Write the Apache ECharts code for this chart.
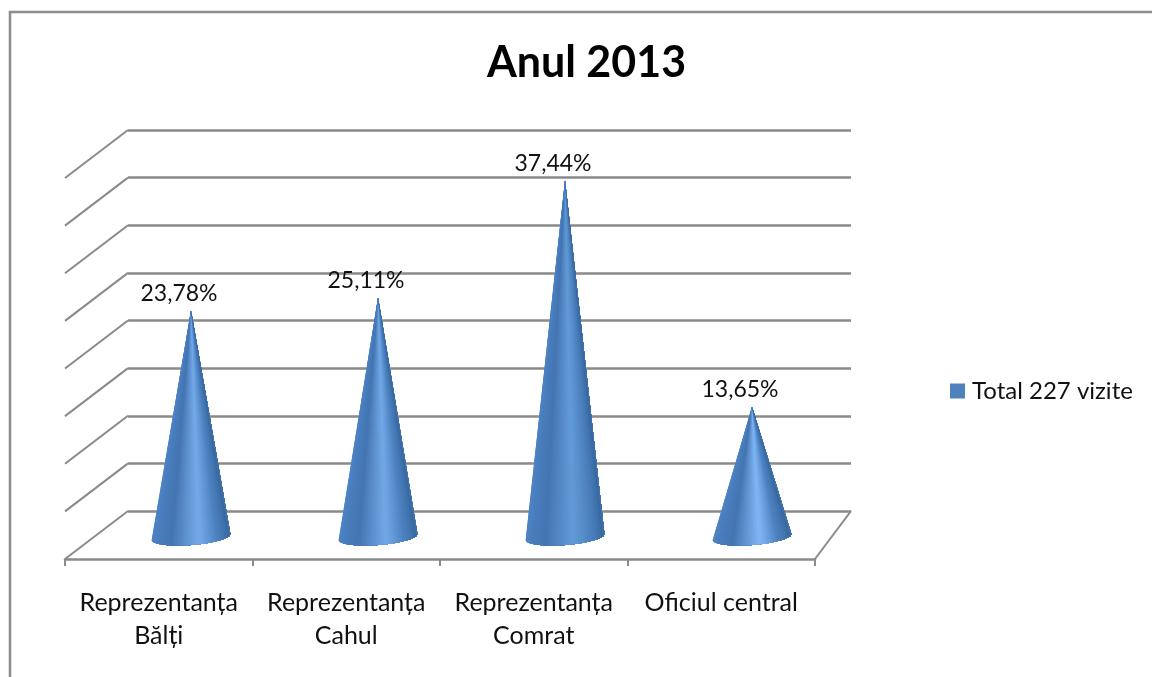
<!DOCTYPE html>
<html>
<head>
<meta charset="utf-8">
<title>Anul 2013</title>
<script src="https://cdn.jsdelivr.net/npm/echarts@6/dist/echarts.min.js"></script>
<style>
  html, body { margin: 0; padding: 0; background: #fff; }
  #chart { width: 1152px; height: 677px; }
</style>
</head>
<body>
<div id="chart"></div>
<script>
// Vizite pe reprezentanțe, anul 2013
const chartTitle = 'Anul 2013';
const seriesName = 'Total 227 vizite';
const categories = ['Reprezentanța\nBălți', 'Reprezentanța\nCahul', 'Reprezentanța\nComrat', 'Oficiul central'];
const shares = [23.78, 25.11, 37.44, 13.65];
const axisTicks = [0, 5, 10, 15, 20, 25, 30, 35, 40];

const FONT = 'Lato, "Open Sans", "Noto Sans", sans-serif';
const GRID_COLOR = '#8a8a8a';
const TEXT_COLOR = '#111';

// Oblique projection of the floor: how far the front edge sits from the back wall.
const DEPTH_LEFT = 63, DEPTH_RIGHT = 36, DEPTH_DOWN = 48;

function hexToRgb(h) {
  return [1, 3, 5].map(i => parseInt(h.substr(i, 2), 16));
}
function mix(a, b, t) {
  const ca = hexToRgb(a), cb = hexToRgb(b);
  return '#' + ca.map((c, i) => Math.round(c + (cb[i] - c) * t).toString(16).padStart(2, '0')).join('');
}
// Colour of the cone surface at position t (0 = left rim, 1 = right rim).
function coneShade(t, highlight) {
  const stops = [
    [0, '#4f86c6'], [0.15, '#4a7fbf'], [0.33, '#4375b1'],
    [0.56, highlight], [0.72, '#4d82c0'], [0.9, '#38689f'], [1, '#4a7fb8']
  ];
  for (let i = 1; i < stops.length; i++) {
    if (t <= stops[i][0]) {
      const u = (t - stops[i - 1][0]) / (stops[i][0] - stops[i - 1][0]);
      return mix(stops[i - 1][1], stops[i][1], u);
    }
  }
  return stops[stops.length - 1][1];
}

function renderCone(params, api) {
  const i = api.value(0), v = api.value(1);
  const apex = api.coord([i, v]);
  const base = api.coord([i, 0]);
  const rx = 39.5, ry = 8, tilt = -0.077;
  const cos = Math.cos(tilt), sin = Math.sin(tilt);
  const N = 48;
  const rim = [];
  for (let k = 0; k <= N; k++) {
    const th = Math.PI - (k / N) * Math.PI;
    const ex = rx * Math.cos(th), ey = ry * Math.sin(th);
    rim.push([base[0] + ex * cos - ey * sin, base[1] + ex * sin + ey * cos]);
  }
  // Shorter cones catch a brighter highlight.
  const short = Math.max(0, Math.min(1, (37.44 - v) / 24));
  const highlight = mix('#639ad8', '#80b6f6', short);
  // Each wedge covers everything to its right, so the next one paints over it without seams.
  const children = [];
  for (let k = 0; k < N; k++) {
    children.push({
      type: 'polygon',
      shape: { points: [apex].concat(rim.slice(k)) },
      style: { fill: coneShade((k + 0.5) / N, highlight) }
    });
  }
  children.push({
    type: 'text',
    style: {
      text: v.toFixed(2).replace('.', ',') + '%',
      x: apex[0] - 12,
      y: apex[1] - 17,
      align: 'center',
      verticalAlign: 'middle',
      fill: TEXT_COLOR,
      font: '23px ' + FONT
    }
  });
  return { type: 'group', children };
}

function renderWallEdge(params, api) {
  const v = api.value(0);
  const p = api.coord([0, v]);
  const x = params.coordSys.x;
  const right = params.coordSys.x + params.coordSys.width;
  const line = (x1, x2) => ({
    type: 'line',
    shape: { x1, y1: p[1], x2, y2: p[1] + DEPTH_DOWN },
    style: { stroke: GRID_COLOR, lineWidth: 2 }
  });
  const children = [line(x, x - DEPTH_LEFT)];
  if (v === 0) children.push(line(right, right - DEPTH_RIGHT));
  return { type: 'group', children };
}

const chart = echarts.init(document.getElementById('chart'), null, { renderer: 'canvas' });
chart.setOption({
  animation: false,
  backgroundColor: '#fff',
  title: {
    text: chartTitle,
    left: 581.5,
    top: 37,
    textAlign: 'center',
    textStyle: { fontFamily: FONT, fontSize: 43, fontWeight: 'bold', color: '#000' }
  },
  legend: {
    data: [seriesName],
    left: 945,
    top: 374,
    itemWidth: 15,
    itemHeight: 15,
    icon: 'rect',
    textStyle: { fontFamily: FONT, fontSize: 24, color: TEXT_COLOR, padding: [0, 0, 0, 2] }
  },
  graphic: [{
    type: 'polyline',
    silent: true,
    shape: { points: [[10, 677], [10, 12], [1152, 12]] },
    style: { fill: 'none', stroke: '#8c8c8c', lineWidth: 2.5 }
  }],
  grid: [
    { left: 128, width: 723, top: 130, height: 381 },  // back wall
    { left: 97.5, width: 748, top: 156, height: 381 }, // plane of the cone bases
    { left: 65, width: 750, top: 130, height: 429 }    // front edge of the floor
  ],
  xAxis: [
    { gridIndex: 0, type: 'category', data: categories, show: false },
    { gridIndex: 1, type: 'category', data: categories, show: false },
    {
      gridIndex: 2,
      type: 'category',
      data: categories,
      boundaryGap: true,
      axisLine: { show: true, lineStyle: { color: GRID_COLOR, width: 2.5 } },
      axisTick: { show: true, interval: 0, alignWithLabel: false, length: 7, lineStyle: { color: GRID_COLOR, width: 2 } },
      axisLabel: {
        margin: 27,
        interval: 0,
        fontFamily: FONT,
        fontSize: 25,
        lineHeight: 33,
        color: TEXT_COLOR
      }
    }
  ],
  yAxis: [
    {
      gridIndex: 0, type: 'value', min: 0, max: 40, interval: 5,
      axisLine: { show: false }, axisTick: { show: false }, axisLabel: { show: false },
      splitLine: { lineStyle: { color: GRID_COLOR, width: 2.5 } }
    },
    { gridIndex: 1, type: 'value', min: 0, max: 40, interval: 5, show: false, splitLine: { show: false } },
    { gridIndex: 2, type: 'value', min: 0, max: 40, interval: 5, show: false, splitLine: { show: false } }
  ],
  series: [
    {
      type: 'custom',
      name: 'walls',
      xAxisIndex: 0,
      yAxisIndex: 0,
      silent: true,
      z: 1,
      renderItem: renderWallEdge,
      encode: { y: 0 },
      data: axisTicks.map(v => [v])
    },
    {
      type: 'custom',
      name: seriesName,
      xAxisIndex: 1,
      yAxisIndex: 1,
      z: 3,
      itemStyle: { color: '#4f81bd' },
      renderItem: renderCone,
      encode: { x: 0, y: 1 },
      data: shares.map((v, i) => [i, v])
    }
  ]
});
</script>
</body>
</html>
